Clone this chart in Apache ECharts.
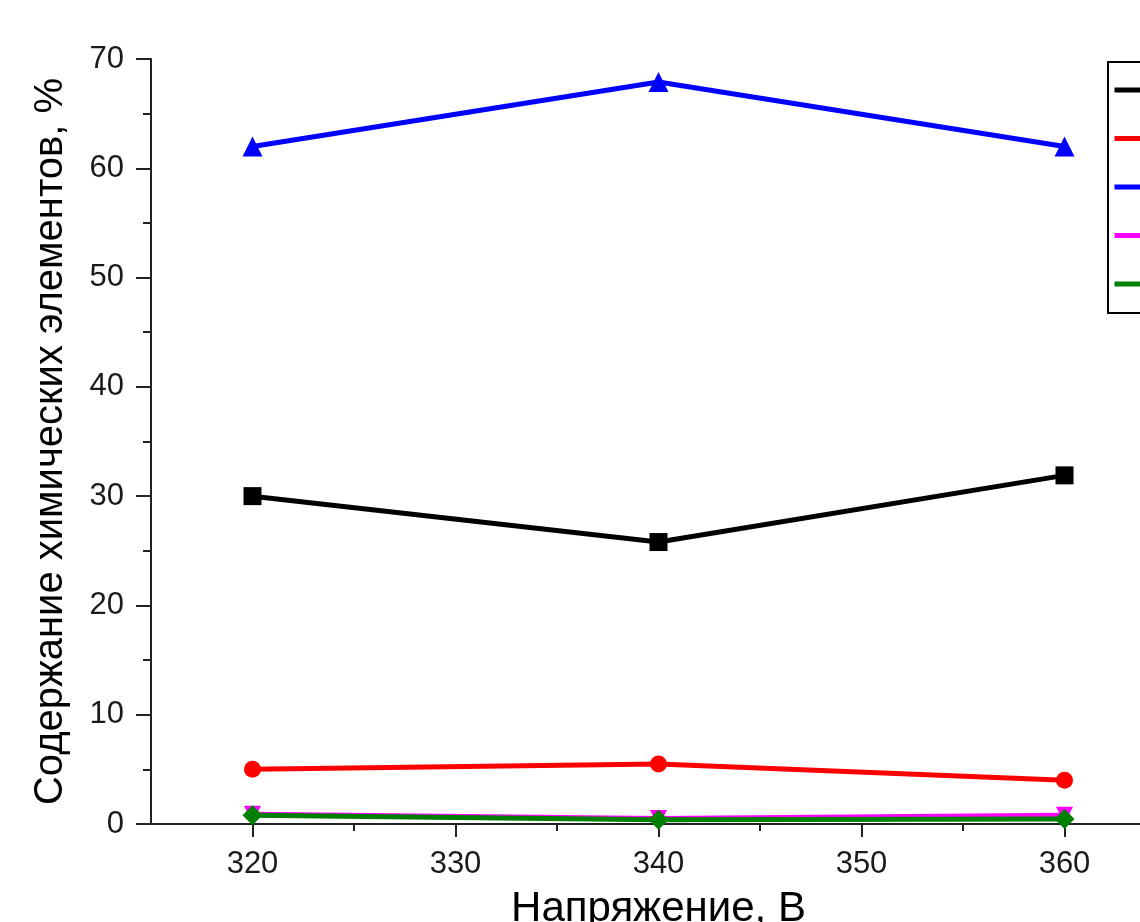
<!DOCTYPE html>
<html>
<head>
<meta charset="utf-8">
<script src="https://cdn.jsdelivr.net/npm/echarts@6/dist/echarts.min.js"></script>
<style>
  html, body { margin: 0; padding: 0; overflow: hidden; background: #fff; }
  #chart { width: 1200px; height: 922px; }
</style>
</head>
<body>
<div id="chart"></div>
<script>
// напряжение, В
const voltage = [320, 340, 360];
// содержание элементов, %
const seriesNames = ['C', 'Si', 'O', 'Na', 'Al'];
const blackVals = [30.0, 25.8, 31.9];
const redVals = [5.0, 5.5, 4.0];
const blueVals = [62.0, 67.9, 62.0];
const magentaVals = [0.9, 0.5, 0.8];
const greenVals = [0.8, 0.4, 0.45];
const xMajorTicks = [320, 330, 340, 350, 360];
const xMinorTicks = [325, 335, 345, 355];

const pairs = (vals) => voltage.map((v, i) => [v, vals[i]]);

const textColor = '#1a1a1a';
const axisColor = '#222';
const font = 'Liberation Sans, Arial, sans-serif';

const mkSeries = (name, vals, color, symbol, size, rotate) => ({
    name,
    type: 'line',
    data: pairs(vals),
    symbol,
    symbolSize: size,
    symbolRotate: rotate || 0,
    lineStyle: { color, width: 5 },
    itemStyle: { color },
    z: 3,
});

const chart = echarts.init(document.getElementById('chart'));
chart.setOption({
    animation: false,
    grid: { left: 151, right: 34, top: 59, bottom: 98, outerBoundsMode: 'none', containLabel: false },
    xAxis: [
        {
            type: 'value',
            min: 315,
            max: 365,
            name: 'Напряжение, В',
            nameLocation: 'middle',
            nameGap: 64,
            nameTextStyle: { fontSize: 42, color: '#000', fontFamily: font },
            axisLine: { show: true, onZero: false, lineStyle: { color: axisColor, width: 2 } },
            axisTick: { show: true, customValues: xMajorTicks, length: 13, lineStyle: { color: axisColor, width: 2 } },
            axisLabel: { customValues: xMajorTicks, fontSize: 31, color: textColor, margin: 25, fontFamily: font },
            splitLine: { show: false },
        },
        {
            type: 'value',
            min: 315,
            max: 365,
            position: 'bottom',
            axisLine: { show: false },
            axisTick: { show: true, customValues: xMinorTicks, length: 7, lineStyle: { color: axisColor, width: 2 } },
            axisLabel: { show: false },
            splitLine: { show: false },
        }
    ],
    yAxis: {
        type: 'value',
        min: 0,
        max: 70,
        interval: 10,
        name: 'Содержание химических элементов, %',
        nameLocation: 'middle',
        nameGap: 80,
        nameTextStyle: { fontSize: 40, color: '#000', fontFamily: font },
        axisLine: { show: true, lineStyle: { color: axisColor, width: 2 } },
        axisTick: { show: true, length: 15, lineStyle: { color: axisColor, width: 2 } },
        minorTick: { show: true, splitNumber: 2, length: 8, lineStyle: { color: axisColor, width: 2 } },
        axisLabel: { fontSize: 31, color: textColor, margin: 27, fontFamily: font },
        splitLine: { show: false },
    },
    legend: {
        orient: 'vertical',
        left: 1108,
        top: 62,
        padding: [16, 10, 17, 4],
        itemGap: 24.5,
        itemWidth: 72,
        itemHeight: 14,
        borderColor: '#000',
        borderWidth: 2,
        lineStyle: { width: 5 },
        textStyle: { fontSize: 24, lineHeight: 24, color: '#000', fontFamily: font },
        data: seriesNames,
    },
    series: [
        mkSeries(seriesNames[0], blackVals, '#000000', 'rect', 18),
        mkSeries(seriesNames[1], redVals, '#ff0000', 'circle', 17),
        mkSeries(seriesNames[2], blueVals, '#0000ff', 'triangle', 20),
        mkSeries(seriesNames[3], magentaVals, '#ff00ff', 'triangle', 17, 180),
        mkSeries(seriesNames[4], greenVals, '#008000', 'diamond', 20),
    ],
});
</script>
</body>
</html>
